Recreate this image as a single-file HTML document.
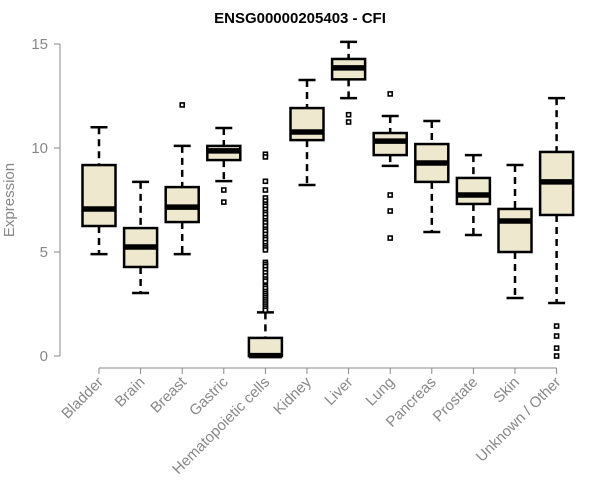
<!DOCTYPE html>
<html><head><meta charset="utf-8"><style>
body{margin:0;background:#fff}
svg{display:block;font-family:"Liberation Sans",Arial,sans-serif}
</style></head><body>
<svg id="chart" width="600" height="500">
<text x="300" y="23" text-anchor="middle" font-weight="bold" font-size="15">ENSG00000205403 - CFI</text>
<text x="0" y="0" transform="translate(14,200) rotate(-90)" text-anchor="middle" font-size="15" fill="#888">Expression</text>
<g id="axes"></g><g id="plot"></g>
</svg>
<script>
const categories=["Bladder","Brain","Breast","Gastric","Hematopoietic cells","Kidney","Liver","Lung","Pancreas","Prostate","Skin","Unknown / Other"];
const lowW=[4.9,3.03,4.9,8.41,0,8.22,12.4,9.14,5.96,5.82,2.79,2.55];
const q1s=[6.25,4.28,6.44,9.42,0,10.38,13.3,9.66,8.37,7.31,5.0,6.78];
const medians=[7.07,5.24,7.16,9.86,0.02,10.77,13.85,10.33,9.28,7.74,6.49,8.37];
const q3s=[9.18,6.15,8.12,10.1,0.87,11.92,14.28,10.72,10.19,8.56,7.07,9.81];
const highW=[11.0,8.37,10.1,10.96,2.1,13.27,15.1,11.54,11.3,9.66,9.18,12.4];
const outliers=[[],[],[12.07],[7.98,7.4],
[9.7,9.57,8.4,7.98,7.6,7.45,7.3,7.2,7.05,6.9,6.8,6.65,6.5,6.4,6.25,6.1,6.0,5.85,5.7,5.6,5.45,5.3,5.2,5.1,4.5,4.4,4.3,4.15,4.0,3.85,3.7,3.6,3.35,3.25,3.1,3.0,2.9,2.8,2.7,2.6,2.5,2.4,2.3,2.2],
[],[11.6,11.25],[12.6,7.74,6.97,5.67],[],[],[],[1.44,0.96,0.38,0.0]];
const yTicks=[0,5,10,15];
const NS="http://www.w3.org/2000/svg";
const y=v=>356-v*20.8;
const x=i=>99+i*41.6;
function mk(tag,attrs,parent){const e=document.createElementNS(NS,tag);for(const k in attrs)e.setAttribute(k,attrs[k]);parent.appendChild(e);return e;}
const ax=document.getElementById('axes'),pl=document.getElementById('plot');
let l=mk('line',{x1:60,x2:60,y1:y(15),y2:y(0),stroke:'#888'},ax);


yTicks.forEach(t=>{
 let tk=mk('line',{x1:54,x2:60,y1:y(t),y2:y(t),stroke:'#888'},ax);
 
 
 let tx=mk('text',{x:48,y:y(t)+5,'text-anchor':'end','font-size':15,fill:'#888'},ax);tx.textContent=t;
 
 
});
let xl=mk('line',{x1:x(0),x2:x(11),y1:368,y2:368,stroke:'#888'},ax);


categories.forEach((c,i)=>{
 let tk=mk('line',{x1:x(i),x2:x(i),y1:368,y2:374,stroke:'#888'},ax);
 
 
 let tx=mk('text',{x:0,y:0,transform:`translate(${x(i)+5},${383}) rotate(-45)`,'text-anchor':'end','font-size':15,fill:'#888'},ax);tx.textContent=c;
 
 
 const g=mk('g',{},pl);
 
 
 const cx=x(i),hw=16.5,cw=8.5;
 mk('line',{x1:cx,x2:cx,y1:y(highW[i]),y2:y(q3s[i]),stroke:'#000','stroke-width':2.5,'stroke-dasharray':'7,5'},g);
 mk('line',{x1:cx,x2:cx,y1:y(q1s[i]),y2:y(lowW[i]),stroke:'#000','stroke-width':2.5,'stroke-dasharray':'7,5'},g);
 mk('line',{x1:cx-cw,x2:cx+cw,y1:y(highW[i]),y2:y(highW[i]),stroke:'#000','stroke-width':2.5},g);
 mk('line',{x1:cx-cw,x2:cx+cw,y1:y(lowW[i]),y2:y(lowW[i]),stroke:'#000','stroke-width':2.5},g);
 mk('rect',{x:cx-hw,y:y(q3s[i]),width:2*hw,height:Math.max(1,y(q1s[i])-y(q3s[i])),fill:'#eee8cf',stroke:'#000','stroke-width':2.5},g);
 mk('line',{x1:cx-hw,x2:cx+hw,y1:y(medians[i]),y2:y(medians[i]),stroke:'#000','stroke-width':5.5},g);
 outliers[i].forEach(v=>{
  let o=mk('rect',{x:cx-2,y:y(v)-2,width:4,height:4,fill:'#fff',stroke:'#000','stroke-width':1.6},g);
  
  
 });
});
</script>
</body></html>
